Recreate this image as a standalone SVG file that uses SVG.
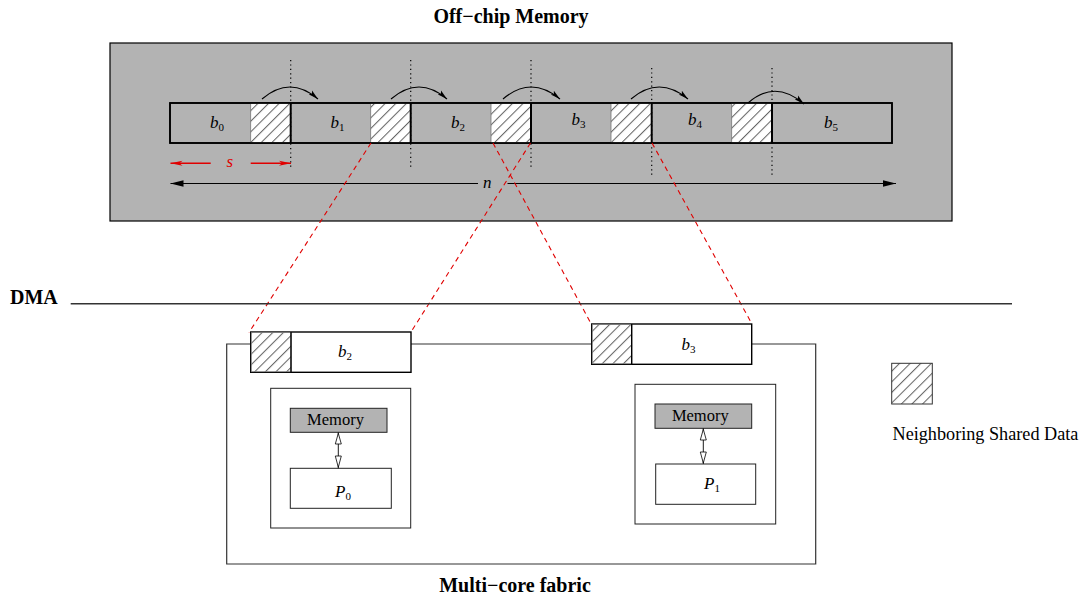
<svg xmlns="http://www.w3.org/2000/svg" width="1081" height="596" viewBox="0 0 1081 596">
<style>
.t{font-family:"Liberation Serif","Times New Roman",serif;fill:#000}
.title{font-weight:bold;font-size:20px}
.mi{font-style:italic;font-size:17px}
.sub{font-style:normal;font-size:11px}
.reg{font-size:16.5px}
.hatch{fill:url(#hatch);stroke:#777;stroke-width:0.8}
.sep{stroke:#000;stroke-width:2}
.dot{stroke:#000;stroke-width:1.2;stroke-dasharray:1.2,3.2;fill:none}
.curve{fill:none;stroke:#000;stroke-width:1.1;marker-end:url(#cah)}
.red{stroke:#e00000;stroke-width:1.1;stroke-dasharray:5,4;fill:none}
.box{fill:#fff;stroke:#222;stroke-width:1}
.mem{fill:#b3b3b3;stroke:#222;stroke-width:1}
.blk{fill:#fff;stroke:#000;stroke-width:1.4}
.oh{fill:#fff;stroke:#000;stroke-width:0.8}
</style>
<defs>
<pattern id="hatch" patternUnits="userSpaceOnUse" width="7.5" height="7.5" patternTransform="rotate(45)">
<rect width="7.5" height="7.5" fill="#fff"/>
<line x1="0.5" y1="0" x2="0.5" y2="7.5" stroke="#666" stroke-width="1.1"/>
</pattern>
<marker id="cah" markerUnits="userSpaceOnUse" markerWidth="11" markerHeight="7" refX="10" refY="3.5" orient="auto">
<path d="M0,1 L10,3.5 L0,6 L2,3.5 z" fill="#000"/>
</marker>
<marker id="nah" markerUnits="userSpaceOnUse" markerWidth="14" markerHeight="8" refX="13" refY="4" orient="auto-start-reverse">
<path d="M0,0.8 L13,4 L0,7.2 z" fill="#000"/>
</marker>
<marker id="rah" markerUnits="userSpaceOnUse" markerWidth="13" markerHeight="7" refX="12" refY="3.5" orient="auto-start-reverse">
<path d="M0,1 L12,3.5 L0,6 L3,3.5 z" fill="#e00000"/>
</marker>
</defs>

<text class="t title" x="511" y="23" text-anchor="middle">Off−chip Memory</text>

<g id="offchip">
<rect x="110" y="43" width="842" height="178" fill="#b3b3b3" stroke="#000" stroke-width="1.2"/>
<rect x="170" y="103" width="722" height="40" fill="#b3b3b3" stroke="#000" stroke-width="1.6"/>
</g>

<g id="blocks">
<rect class="hatch" x="250.7" y="103.5" width="40" height="39"/>
<rect class="hatch" x="370.7" y="103.5" width="40" height="39"/>
<rect class="hatch" x="491" y="103.5" width="40" height="39"/>
<rect class="hatch" x="611" y="103.5" width="40.7" height="39"/>
<rect class="hatch" x="731.7" y="103.5" width="40.3" height="39"/>
<line class="sep" x1="290.7" y1="103" x2="290.7" y2="143"/>
<line class="sep" x1="410.7" y1="103" x2="410.7" y2="143"/>
<line class="sep" x1="531" y1="103" x2="531" y2="143"/>
<line class="sep" x1="651.7" y1="103" x2="651.7" y2="143"/>
<line class="sep" x1="772" y1="103" x2="772" y2="143"/>
<rect x="170" y="103" width="722" height="40" fill="none" stroke="#000" stroke-width="1.6"/>
<text class="t mi" x="210" y="128">b<tspan class="sub" dy="3">0</tspan></text>
<text class="t mi" x="330.5" y="128">b<tspan class="sub" dy="3">1</tspan></text>
<text class="t mi" x="451" y="128">b<tspan class="sub" dy="3">2</tspan></text>
<text class="t mi" x="571.5" y="125">b<tspan class="sub" dy="3">3</tspan></text>
<text class="t mi" x="688" y="125">b<tspan class="sub" dy="3">4</tspan></text>
<text class="t mi" x="824" y="128">b<tspan class="sub" dy="3">5</tspan></text>
</g>

<g id="dotted">
<line class="dot" x1="290.7" y1="60" x2="290.7" y2="169"/>
<line class="dot" x1="410.7" y1="60" x2="410.7" y2="169"/>
<line class="dot" x1="531" y1="60" x2="531" y2="169"/>
<line class="dot" x1="651.7" y1="68" x2="651.7" y2="178"/>
<line class="dot" x1="772" y1="68" x2="772" y2="178"/>
</g>

<text class="t mi" x="226.5" y="167" style="fill:#e00000">s</text>
<text class="t mi" x="483" y="188">n</text>
<text class="t title" x="10" y="304">DMA</text>

<g id="fabric">
<path d="M250.7,344 H226.7 V564 H815.7 V344 H751.7 M411,344 H591.7" fill="none" stroke="#333" stroke-width="1.2"/>
</g>

<g id="block-b2">
<rect class="blk" x="250.7" y="332" width="160.3" height="40.3"/>
<rect class="hatch" x="251.3" y="332.6" width="39.7" height="39.1"/>
<line x1="291" y1="332" x2="291" y2="372.3" stroke="#000" stroke-width="1.4"/>
<text class="t mi" x="338" y="357">b<tspan class="sub" dy="3">2</tspan></text>
</g>

<g id="block-b3">
<rect class="blk" x="591.7" y="324" width="160" height="40.3"/>
<rect class="hatch" x="592.3" y="324.6" width="39.4" height="39.1"/>
<line x1="631.7" y1="324" x2="631.7" y2="364.3" stroke="#000" stroke-width="1.4"/>
<text class="t mi" x="681.5" y="350">b<tspan class="sub" dy="3">3</tspan></text>
</g>

<g id="core0">
<rect class="box" x="270.7" y="388.3" width="140" height="139.7"/>
<rect class="mem" x="290.3" y="408.3" width="96.7" height="24"/>
<text class="t reg" x="335.5" y="424.5" text-anchor="middle">Memory</text>
<rect class="box" x="290.3" y="468.3" width="101" height="40"/>
<text class="t mi" x="335" y="497">P<tspan class="sub" dy="3">0</tspan></text>
</g>

<g id="core1">
<rect class="box" x="635" y="384.3" width="140.7" height="139.7"/>
<rect class="mem" x="655" y="404" width="96.7" height="24.3"/>
<text class="t reg" x="700.3" y="420.5" text-anchor="middle">Memory</text>
<rect class="box" x="655.7" y="464" width="100" height="40.3"/>
<text class="t mi" x="704" y="489">P<tspan class="sub" dy="3">1</tspan></text>
</g>

<g id="legend">
<rect class="hatch" x="891.7" y="363.3" width="40.6" height="40.7" style="stroke:#333;stroke-width:1"/>
<text class="t" x="892.5" y="440" font-size="18.2">Neighboring Shared Data</text>
</g>

<g id="connectors">
<path class="curve" d="M262,99 Q290,75 318,99"/>
<path class="curve" d="M391,99 Q419,75 447,99"/>
<path class="curve" d="M503,99 Q531,75 560,99"/>
<path class="curve" d="M631,99 Q659,75 688,99"/>
<path class="curve" d="M748,103 Q775,79 804,104"/>
<line x1="210.7" y1="163.3" x2="170.5" y2="163.3" stroke="#e00000" stroke-width="1.4" marker-end="url(#rah)"/>
<line x1="250.7" y1="163.3" x2="291" y2="163.3" stroke="#e00000" stroke-width="1.4" marker-end="url(#rah)"/>
<line x1="478" y1="183.5" x2="170.5" y2="183.5" stroke="#000" stroke-width="1.1" marker-end="url(#nah)"/>
<line x1="507.5" y1="183.5" x2="896" y2="183.5" stroke="#000" stroke-width="1.1" marker-end="url(#nah)"/>
<line class="red" x1="371" y1="143" x2="249" y2="332.5"/>
<line class="red" x1="530.5" y1="143" x2="411" y2="332"/>
<line class="red" x1="493" y1="143" x2="591" y2="323.5"/>
<line class="red" x1="652" y1="143" x2="752" y2="324"/>
<line x1="70.7" y1="303.7" x2="1012" y2="303.7" stroke="#333" stroke-width="1.4"/>
<line x1="338.3" y1="432.3" x2="338.3" y2="468.3" stroke="#000" stroke-width="0.9"/>
<polygon class="oh" points="338.3,433.3 335.3,444 341.3,444"/>
<polygon class="oh" points="338.3,467.3 335.3,456 341.3,456"/>
<line x1="703.3" y1="428.3" x2="703.3" y2="464" stroke="#000" stroke-width="0.9"/>
<polygon class="oh" points="703.3,429.3 700.3,440 706.3,440"/>
<polygon class="oh" points="703.3,463 700.3,452 706.3,452"/>
</g>

<text class="t title" x="515" y="592" text-anchor="middle">Multi−core fabric</text>
</svg>
